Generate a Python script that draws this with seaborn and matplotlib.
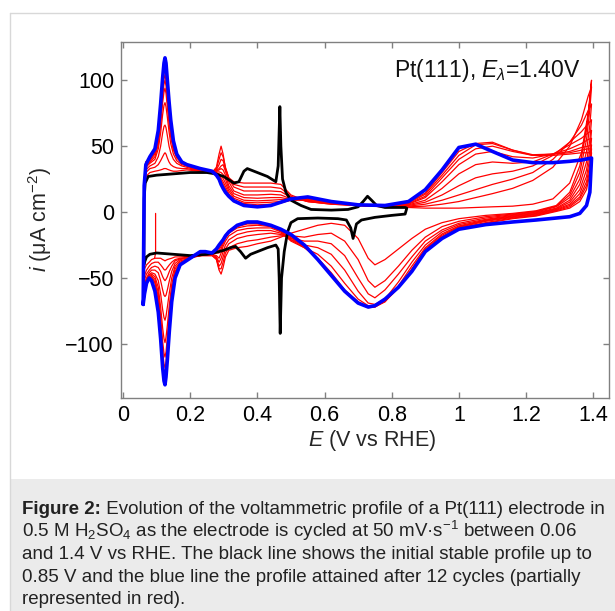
import numpy as np
import pandas as pd
import matplotlib
matplotlib.use("Agg")
import matplotlib.pyplot as plt
import seaborn as sns
from matplotlib.patches import Rectangle
from matplotlib.lines import Line2D

# ---------------- data (E in V vs RHE, i in uA cm^-2) ----------------
# anodic (positive-going) sweep potentials
E_up = [0.060, 0.063, 0.068, 0.080,
        0.095, 0.105, 0.112, 0.118, 0.122, 0.125, 0.128, 0.132, 0.137, 0.142, 0.150, 0.160, 0.175, 0.190,
        0.230, 0.265, 0.278, 0.286, 0.292, 0.298, 0.305, 0.315, 0.330, 0.360, 0.400, 0.440, 0.470, 0.500,
        0.550, 0.620, 0.700, 0.780, 0.850, 0.900, 0.950, 1.000, 1.050, 1.100, 1.160, 1.220, 1.280, 1.330,
        1.365, 1.385, 1.395]

blue_up = [-70, 20, 36, 42,
           48, 62, 82, 102, 113, 117, 113, 100, 84, 70, 54, 44, 38, 36,
           33, 31, 28, 25, 21, 18, 15, 12, 8.5, 5, 4, 5, 7.5, 10,
           11.5, 8, 5.5, 5, 8, 17, 32, 49, 51.5, 46, 39.5, 37.5, 37.5, 38.5,
           39.5, 40.5, 41]

red_up = [
    [-45, 15, 27, 30,
     31, 31.5, 32, 32.5, 33, 33, 33, 32.5, 32, 31.5, 31, 31, 31.5, 32,
     31, 30, 34, 44, 50, 44, 33, 26, 23, 22, 22, 22, 21, 13,
     8, 6, 5, 4, 3.5, 3, 3, 3, 3.5, 4, 4.5, 6, 10, 22, 45, 75, 100],
    [-50, 18, 30, 33,
     34, 36, 39, 42, 44, 45, 44, 41, 38, 36, 34.5, 33.5, 33, 33,
     31, 30, 33, 40, 45, 42, 34, 26, 21, 19, 19, 19, 18, 12,
     8, 6, 5, 4, 4, 4.5, 6, 8, 11, 14, 18, 24, 34, 50, 70, 88, 95],
    [-53, 20, 32, 35,
     37, 42, 50, 60, 65, 66, 64, 58, 50, 45, 40, 37, 35, 34,
     31, 30, 32, 36, 40, 39, 33, 25, 19, 16, 16, 16, 15.5, 11,
     8, 6.5, 5, 4.5, 4.5, 6, 9, 13, 17, 21, 25, 30, 40, 53, 66, 77, 82],
    [-56, 22, 34, 37,
     40, 48, 60, 74, 81, 83, 80, 72, 61, 52, 44, 39, 36, 35,
     31, 30.5, 31.5, 33, 35, 36, 31, 23, 16, 13, 13, 13.5, 13, 10,
     8.5, 6.5, 5, 4.5, 5, 7.5, 13, 20, 26, 29, 31, 35, 43, 53, 61, 67, 70],
    [-58, 23, 35, 38,
     42, 51, 66, 83, 91, 94, 90, 80, 67, 57, 47, 41, 37, 35,
     31, 30.5, 31, 32, 33, 32, 28, 20, 14, 11, 10.5, 11, 11, 9.5,
     9, 7, 5, 4.5, 5.5, 9, 18, 29, 36, 38, 37, 38, 44, 51, 56, 60, 62],
    [-60, 24, 36, 39,
     44, 53, 70, 88, 97, 100, 96, 85, 71, 60, 48, 42, 37.5, 35.5,
     31.5, 30.5, 30.5, 30.5, 30, 28.5, 25, 18, 12, 9, 8.5, 9, 9.5, 9,
     9.5, 7.5, 5.5, 4.5, 6, 11, 23, 36, 44, 46, 42, 41, 44, 48, 52, 55, 56],
    [-63, 24, 37, 40,
     45, 55, 72, 91, 101, 104, 100, 88, 73, 62, 49, 42.5, 38, 36,
     32, 30.5, 30, 29, 27.5, 25.5, 22, 16, 10.5, 7.5, 7, 7.5, 8, 9,
     10, 8, 5.5, 5, 6.5, 12, 26, 40, 48, 50, 46, 43, 44, 46, 49, 50, 51],
    [-65, 24, 38, 40.5,
     46, 57, 74, 95, 105, 108, 104, 91, 75, 64, 50, 43, 38, 36,
     32.5, 30.5, 29.5, 27.5, 25.5, 23, 19.5, 14, 9, 6.5, 5.5, 6, 7, 9,
     10.5, 8, 5.5, 5, 7, 13.5, 28, 43, 51, 52, 47, 43.5, 44, 45, 47, 48, 48],
    [-67, 23, 38, 41,
     47, 59, 77, 98, 109, 112, 108, 95, 78, 66, 51, 43.5, 38, 36,
     32.5, 31, 29, 26.5, 24, 21, 17.5, 12.5, 8, 5.5, 4.5, 5.5, 7, 9.5,
     11, 8, 5.5, 5, 7.5, 14.5, 30, 46, 52, 53, 47, 43, 43, 44, 45, 45, 45],
]

# cathodic (negative-going) sweep potentials
E_dn = [1.395, 1.390, 1.380, 1.360, 1.330, 1.290, 1.230, 1.160, 1.080, 1.000,
        0.950, 0.900, 0.860, 0.820, 0.780, 0.750, 0.730, 0.700, 0.660, 0.620,
        0.580, 0.540, 0.500,
        0.470, 0.440, 0.400, 0.370, 0.340, 0.315, 0.305, 0.298, 0.292, 0.286, 0.278, 0.265,
        0.245, 0.230, 0.200, 0.170, 0.155, 0.145, 0.138, 0.132, 0.128, 0.125, 0.122, 0.118,
        0.112, 0.105, 0.095, 0.085, 0.078, 0.070, 0.064, 0.060]

blue_dn = [41, 15, 5, -1, -3.5, -4.5, -6, -7.5, -9.5, -13,
           -20, -30, -45, -57, -66, -71, -72, -69, -60, -48,
           -36, -25, -17,
           -13, -10, -7.5, -7.5, -10, -15, -18, -21, -23, -25, -28, -31,
           -30, -30, -35, -40, -50, -68, -90, -112, -125, -131, -128, -118,
           -96, -76, -60, -52, -50, -54, -62, -70]

red_dn = [
    [100, 85, 62, 35, 15, 5, 1, -1, -2.5, -5, -8, -13, -20, -28, -36, -40, -35, -20, -10, -8.5,
     -10, -13, -16,
     -19, -22, -24, -26, -27, -29, -34, -42, -47, -44, -36, -33,
     -33, -33, -33.5, -34, -34, -35, -35.5, -36, -36.5, -37, -36.5, -36,
     -35, -35, -35, -36, -38, -40, -43, -45],
    [95, 78, 55, 30, 13, 4.5, 0.5, -1.5, -3.5, -7, -11, -19, -29, -41, -52, -57, -52, -36, -22, -16,
     -17, -19, -18,
     -18, -19, -21, -22, -24, -27, -31, -38, -43, -43, -35, -33,
     -33, -33, -34, -35, -36, -38, -40, -42, -43.5, -44, -43.5, -42,
     -40, -38, -38, -39, -41, -44, -48, -50],
    [82, 66, 46, 25, 11, 4, 0, -2, -4.5, -8.5, -13.5, -22, -34, -47, -59, -65, -62, -50, -33, -24,
     -22, -22, -20,
     -17, -16, -17, -18, -20, -24, -28, -34, -39, -41, -35, -32.5,
     -32.5, -33, -34, -35.5, -37, -41, -45, -49, -51, -52, -51, -49,
     -45, -42, -41, -42, -44, -47, -51, -53],
    [70, 55, 38, 21, 9, 3, -0.5, -2.5, -5.5, -9.5, -15, -25, -38, -53, -66, -70, -69, -60, -44, -32,
     -27, -25, -21,
     -16, -14, -14, -15, -17, -21, -25, -30, -35, -38, -34, -32,
     -32, -33, -34.5, -36, -39, -45, -52, -59, -63, -64, -63, -59,
     -52, -46, -44, -44, -46, -50, -54, -56],
    [62, 47, 32, 17, 7.5, 2.5, -1, -3, -6, -10.5, -16.5, -27, -41, -56, -68, -71.5, -71, -66, -54, -41,
     -32, -27, -22,
     -15, -12, -12, -12.5, -14, -18, -22, -26, -31, -35, -33, -32,
     -32, -33, -35, -37, -41, -50, -61, -72, -79, -82, -80, -74,
     -62, -52, -47, -46, -47.5, -51, -55, -58],
    [56, 41, 27, 14, 6, 2, -1.5, -3.5, -6.5, -11, -17.5, -28, -43, -57.5, -68, -72, -72, -68, -59, -46,
     -35, -27, -21,
     -14.5, -11, -10, -10.5, -12, -16, -20, -24, -28, -31, -31, -31.5,
     -31.5, -32, -35, -38, -43, -55, -70, -86, -95, -99, -96, -88,
     -72, -57, -49, -47, -48.5, -52, -57, -60],
    [51, 36, 23, 11.5, 5, 1.5, -2, -4, -7, -11.5, -18.5, -29, -44, -57.5, -67.5, -72, -72.5, -69, -60, -48,
     -36, -26.5, -19.5,
     -14, -10.5, -9, -9, -11, -15, -19, -22.5, -26, -28.5, -29.5, -31.5,
     -31.5, -31, -35, -39, -45, -59, -76, -95, -106, -110, -107, -98,
     -79, -61, -51, -48, -49, -53, -59, -63],
    [48, 32, 20, 10, 4, 1, -2.5, -4.5, -8, -12, -19, -29.5, -44.5, -57, -67, -71.5, -72, -69, -60, -48,
     -36, -26, -18.5,
     -13.5, -10.5, -8.5, -8.5, -10.5, -14.5, -18, -21.5, -24.5, -27, -28.5, -31.5,
     -31.5, -30.5, -35, -39.5, -46, -62, -81, -102, -114, -118, -115, -105,
     -84, -64, -53, -49, -49.5, -53.5, -60, -65],
    [45, 29, 17, 8, 3, 0.5, -3, -5, -8.5, -12.5, -19.5, -30, -45, -57, -66.5, -71, -72, -69, -60, -48,
     -36, -25.5, -18,
     -13, -10, -8, -8, -10, -14, -17.5, -21, -24, -26, -28, -31,
     -31, -30, -35, -40, -47, -64, -85, -107, -119, -124, -121, -110,
     -88, -67, -54, -49.5, -50, -54, -61, -67],
]

# start of the recorded red cycling (at 0.1 V)
start_E = [0.097, 0.097, 0.094]
start_i = [-1, -31, -35]

# initial stable profile up to 0.85 V (black)
black_E_up = [0.062, 0.063, 0.066, 0.075, 0.10, 0.15, 0.20, 0.25, 0.275, 0.30,
              0.33, 0.345, 0.36, 0.37, 0.40, 0.43, 0.455, 0.462, 0.467, 0.470,
              0.475, 0.485, 0.50, 0.53, 0.56, 0.62, 0.67, 0.70, 0.715, 0.728,
              0.74, 0.755, 0.78, 0.84, 0.845]
black_up = [-40, 10, 22, 27, 28, 29, 30, 30, 29, 27,
            22, 23, 31, 33, 30, 27, 23, 35, 80, 50,
            25, 15, 9, 5, 2, 1.5, 2, 4, 8, 12,
            9, 5, 3.5, 3.5, 3]
black_E_dn = [0.845, 0.84, 0.80, 0.75, 0.71, 0.695, 0.685, 0.678, 0.665, 0.64,
              0.58, 0.52, 0.50, 0.49, 0.48, 0.472, 0.468, 0.465, 0.462, 0.455,
              0.43, 0.40, 0.38, 0.365, 0.35, 0.335, 0.32, 0.30, 0.27, 0.25,
              0.20, 0.15, 0.10, 0.08, 0.07, 0.064, 0.062]
black_dn = [3, -1.5, -2.5, -4, -6, -9, -20, -12, -6, -5,
            -4.5, -5, -8, -15, -30, -50, -92, -50, -28, -25,
            -27, -30, -32, -35, -30, -26, -27, -29, -31, -32,
            -33, -32, -31, -32, -34, -38, -40]

x_ticks = [0, 0.2, 0.4, 0.6, 0.8, 1.0, 1.2, 1.4]
x_tick_labels = ["0", "0.2", "0.4", "0.6", "0.8", "1", "1.2", "1.4"]
y_ticks = [-100, -50, 0, 50, 100]
y_tick_labels = ["\u2212100", "\u221250", "0", "50", "100"]

caption_lines = [
    " Evolution of the voltammetric profile of a Pt(111) electrode in",
    "0.5 M H$_2$SO$_4$ as the electrode is cycled at 50 mV\u00b7s$^{\u22121}$ between 0.06",
    "and 1.4 V vs RHE. The black line shows the initial stable profile up to",
    "0.85 V and the blue line the profile attained after 12 cycles (partially",
    "represented in red).",
]

# ---------------- tables ----------------
def cycle_frame(name, e1, i1, e2, i2):
    e = list(e1) + list(e2)
    v = list(i1) + list(i2)
    return pd.DataFrame({"E": e, "i": v, "curve": name, "n": range(len(e))})

red_df = pd.concat([cycle_frame(f"r{k}", E_up, u, E_dn, d)
                    for k, (u, d) in enumerate(zip(red_up, red_dn))], ignore_index=True)
start_df = cycle_frame("start", start_E, start_i, [], [])
blue_df = cycle_frame("blue", E_up, blue_up, E_dn, blue_dn)
black_df = cycle_frame("black", black_E_up, black_up, black_E_dn, black_dn)

# ---------------- style ----------------
sns.set_style("white")
plt.rcParams["font.family"] = ["Liberation Sans", "DejaVu Sans"]
plt.rcParams["mathtext.fontset"] = "custom"
plt.rcParams["mathtext.rm"] = "Liberation Sans"
plt.rcParams["mathtext.it"] = "Liberation Sans:italic"
plt.rcParams["mathtext.bf"] = "Liberation Sans:bold"

W, H = 615, 611
fig = plt.figure(figsize=(W / 100, H / 100), dpi=100)
fig.patch.set_facecolor("white")

# caption box and frame
fig.patches.append(Rectangle((10 / W, 0), 1, (H - 479) / H, transform=fig.transFigure,
                             facecolor="#ebebeb", edgecolor="none", zorder=0))
fig.lines.append(Line2D([10 / W, 10 / W], [0, 1 - 13 / H], transform=fig.transFigure,
                        color="#d8d8d8", lw=1.0))
fig.lines.append(Line2D([10 / W, 1], [1 - 13 / H, 1 - 13 / H], transform=fig.transFigure,
                        color="#d8d8d8", lw=1.0))

ax = fig.add_axes([121 / W, 1 - 398 / H, 488 / W, 356 / H])
ax.set_facecolor("white")

common = dict(x="E", y="i", units="curve", estimator=None, sort=False, ax=ax, legend=False)
sns.lineplot(data=red_df, color="#ff0000", lw=0.9, **common)
sns.lineplot(data=start_df, color="#ff0000", lw=0.9, **common)
sns.lineplot(data=black_df, color="black", lw=2.0, **common)
sns.lineplot(data=blue_df, color="#0000ff", lw=2.6, **common)

ax.set_xlim(-0.006, 1.447)
ax.set_ylim(-141, 129)
ax.set_xticks(x_ticks)
ax.set_xticklabels(x_tick_labels)
ax.set_yticks(y_ticks)
ax.set_yticklabels(y_tick_labels)
for s in ax.spines.values():
    s.set_visible(True)
    s.set_color("#808080")
    s.set_linewidth(1.0)
ax.tick_params(axis="both", labelsize=15.5, colors="#808080", labelcolor="black",
               width=1.0, length=4, direction="in",
               top=True, right=True, bottom=True, left=True, pad=5)

ax.set_xlabel(r"$\mathit{E}$ (V vs RHE)", fontsize=15.5)
ax.set_ylabel(r"$\mathit{i}$ ($\mathregular{\mu}$A cm$^{-2}$)", fontsize=15.5)
ax.xaxis.set_label_coords(0.514, -0.118)
ax.yaxis.set_label_coords(-0.166, 0.5)
ax.xaxis.label.set_va("center")
ax.yaxis.label.set_va("center")

ax.text(1.362, 107.6, r"Pt(111), $\mathit{E}_{\lambda}$=1.40V", fontsize=16.5,
        ha="right", va="center", color="#111111")

# caption
cap_size = 13.5
base_y = [514, 537, 559, 582, 604]
t0 = fig.text(22 / W, 1 - base_y[0] / H, "Figure 2:", fontsize=cap_size, weight="bold",
              va="baseline", ha="left", color="#222222")
fig.canvas.draw()
bb = t0.get_window_extent()
fig.text(bb.x1 / W, 1 - base_y[0] / H, caption_lines[0], fontsize=cap_size,
         va="baseline", ha="left", color="#222222")
for line, yb in zip(caption_lines[1:], base_y[1:]):
    fig.text(22 / W, 1 - yb / H, line, fontsize=cap_size, va="baseline", ha="left",
             color="#222222")

fig.savefig("out.png", dpi=100)
